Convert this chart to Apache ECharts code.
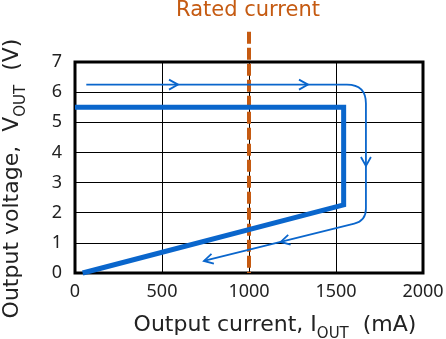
<!DOCTYPE html>
<html>
<head>
<meta charset="utf-8">
<script src="https://cdn.jsdelivr.net/npm/echarts@6/dist/echarts.min.js"></script>
<style>
  html, body { margin: 0; padding: 0; background: #fff; }
  #chart { width: 446px; height: 339px; }
</style>
</head>
<body>
<div id="chart"></div>
<script>
// Axis ranges and ticks
const xMin = 0, xMax = 2000, xStep = 500;
const yMin = 0, yMax = 7, yStep = 1;

// Fold-back output characteristic: current (mA) vs voltage (V)
const foldbackI = [0, 1544, 1544, 44];
const foldbackV = [5.5, 5.5, 2.26, 0];

// Load-increase trace (thin line with rounded corners)
const traceI = [65, 1672, 1672, 741];
const traceV = [6.25, 6.25, 1.73, 0.40];
// Corner radius (px) at each interior vertex of the trace
const traceRadius = [19, 12];

// Arrowheads along the trace: tip position and the trace segment it sits on
const arrowI = [592, 1339, 1672, 1182, 741];
const arrowV = [6.25, 6.25, 3.55, 1.03, 0.40];
const arrowSeg = [0, 0, 1, 2, 2];

// Rated current marker
const ratedI = [1000, 1000];
const ratedV = [8, 0];

const BLUE = '#0a66cc';
const RUST = '#c55a11';
const FONT = '"DejaVu Sans", sans-serif';
const TICK_FONT = '"Noto Sans", sans-serif';

const chart = echarts.init(document.getElementById('chart'), null, { renderer: 'canvas' });

function zip(a, b) { return a.map((v, i) => [v, b[i]]); }

function renderTrace(params, api) {
  if (params.dataIndex !== 0) return null;
  const pts = traceI.map((x, i) => api.coord([x, traceV[i]]));
  // Build path with rounded corners (quadratic curves at interior vertices)
  let d = 'M' + pts[0][0] + ' ' + pts[0][1];
  for (let i = 1; i < pts.length - 1; i++) {
    const p0 = pts[i - 1], p1 = pts[i], p2 = pts[i + 1];
    const r = traceRadius[i - 1];
    const l1 = Math.hypot(p1[0] - p0[0], p1[1] - p0[1]);
    const l2 = Math.hypot(p2[0] - p1[0], p2[1] - p1[1]);
    const a = [p1[0] - (p1[0] - p0[0]) * r / l1, p1[1] - (p1[1] - p0[1]) * r / l1];
    const b = [p1[0] + (p2[0] - p1[0]) * r / l2, p1[1] + (p2[1] - p1[1]) * r / l2];
    d += ' L' + a[0] + ' ' + a[1] + ' Q' + p1[0] + ' ' + p1[1] + ' ' + b[0] + ' ' + b[1];
  }
  const last = pts[pts.length - 1];
  d += ' L' + last[0] + ' ' + last[1];

  const children = [{
    type: 'path',
    shape: { pathData: d },
    style: { fill: 'none', stroke: BLUE, lineWidth: 1.8 }
  }];

  // Open chevron arrowheads
  const len = 9, half = 5;
  arrowI.forEach((x, k) => {
    const tip = api.coord([x, arrowV[k]]);
    const s = arrowSeg[k];
    const dx = pts[s + 1][0] - pts[s][0], dy = pts[s + 1][1] - pts[s][1];
    const l = Math.hypot(dx, dy);
    const ux = dx / l, uy = dy / l;
    const bx = tip[0] - ux * len, by = tip[1] - uy * len;
    children.push({
      type: 'polyline',
      shape: { points: [
        [bx - uy * half, by + ux * half],
        tip,
        [bx + uy * half, by - ux * half]
      ] },
      style: { fill: 'none', stroke: BLUE, lineWidth: 1.8 }
    });
  });
  return { type: 'group', children };
}

const nameRich = {
  m: { fontFamily: FONT, fontSize: 22, lineHeight: 28, verticalAlign: 'top', color: '#222' },
  s: { fontFamily: FONT, fontSize: 15, lineHeight: 15, verticalAlign: 'bottom', color: '#222' }
};

const option = {
  animation: false,
  backgroundColor: '#fff',
  grid: {
    left: 75, right: 23, top: 62, bottom: 66,
    containLabel: false, outerBoundsMode: 'none',
    show: true, borderColor: '#000', borderWidth: 3, backgroundColor: 'transparent'
  },
  graphic: [{
    type: 'text',
    x: 248, y: 11,
    style: {
      text: 'Rated current', fill: RUST, font: '21px ' + FONT,
      textAlign: 'center', textVerticalAlign: 'middle'
    }
  }],
  xAxis: {
    type: 'value', min: xMin, max: xMax, interval: xStep,
    axisLine: { show: false }, axisTick: { show: false },
    splitLine: { show: true, lineStyle: { color: '#000', width: 1 } },
    axisLabel: {
      color: '#222', fontFamily: TICK_FONT, fontSize: 18, margin: 10,
      formatter: v => String(v)
    },
    name: '{m|Output current, I}{s|OUT}{m|  (mA)}',
    nameLocation: 'middle', nameGap: 41,
    nameTextStyle: {
      color: '#222', fontFamily: FONT, fontSize: 22,
      padding: [0, 0, 0, 52], rich: nameRich
    }
  },
  yAxis: {
    type: 'value', min: yMin, max: yMax, interval: yStep,
    axisLine: { show: false }, axisTick: { show: false },
    splitLine: { show: true, lineStyle: { color: '#000', width: 1 } },
    axisLabel: {
      color: '#222', fontFamily: TICK_FONT, fontSize: 18, margin: 13,
      formatter: v => String(v)
    },
    name: '{m|Output voltage,  V}{s|OUT}{m|  (V)}',
    nameLocation: 'middle', nameGap: 46, nameRotate: 90,
    nameTextStyle: {
      color: '#222', fontFamily: FONT, fontSize: 22,
      padding: [0, 22, 0, 0], rich: nameRich
    }
  },
  series: [
    {
      name: 'Rated current',
      type: 'line',
      data: zip(ratedI, ratedV),
      clip: false,
      symbol: 'none',
      z: 3,
      lineStyle: { color: RUST, width: 4, type: [12, 4] }
    },
    {
      name: 'Output characteristic',
      type: 'line',
      data: zip(foldbackI, foldbackV),
      symbol: 'none',
      clip: false,
      z: 4,
      lineStyle: { color: BLUE, width: 5, join: 'miter', cap: 'butt' }
    },
    {
      name: 'Load trace',
      type: 'custom',
      coordinateSystem: 'cartesian2d',
      data: [[traceI[0], traceV[0]]],
      renderItem: renderTrace,
      clip: false,
      z: 5
    }
  ]
};

chart.setOption(option);
</script>
</body>
</html>
